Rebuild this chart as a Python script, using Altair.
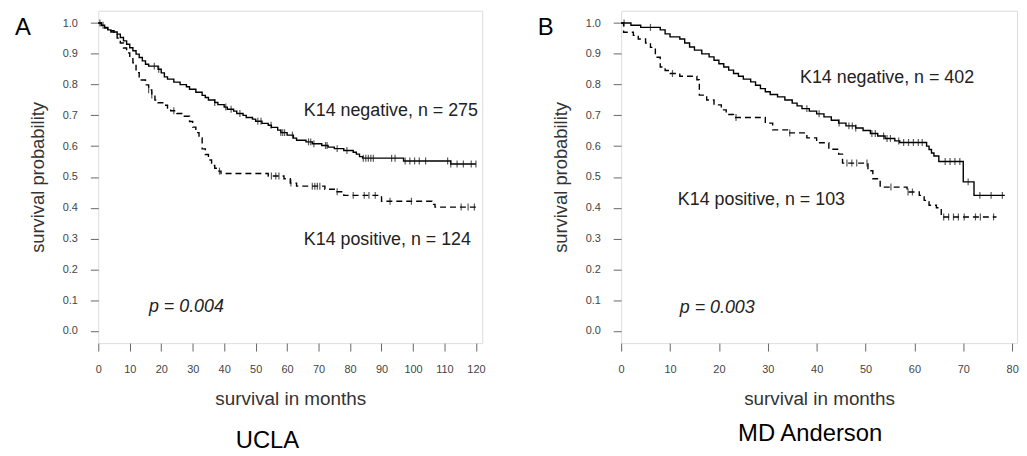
import altair as alt
import pandas as pd

# ---------------- data ----------------
# UCLA, K14 negative (solid)
ucla_neg_t = [0, 1, 2, 3, 4, 6, 7, 8, 9, 10, 11, 12, 13, 14, 15, 16, 19, 20, 21, 22, 24, 26, 28, 29, 31,
              33, 34, 35, 37, 38, 40, 41, 43, 44, 46, 47, 49, 50, 52, 54, 55, 57, 58, 60, 62, 63, 66, 68,
              71, 73, 75, 78, 81, 82, 83, 84, 97, 112, 120]
ucla_neg_s = [1.0, 0.993, 0.986, 0.978, 0.971, 0.964, 0.953, 0.942, 0.931, 0.920, 0.910, 0.899, 0.888,
              0.877, 0.866, 0.860, 0.850, 0.838, 0.825, 0.818, 0.808, 0.800, 0.793, 0.785, 0.775, 0.765,
              0.758, 0.750, 0.742, 0.735, 0.727, 0.720, 0.714, 0.706, 0.700, 0.693, 0.688, 0.681, 0.674,
              0.668, 0.661, 0.652, 0.644, 0.636, 0.626, 0.619, 0.614, 0.608, 0.602, 0.597, 0.592, 0.586,
              0.580, 0.574, 0.566, 0.561, 0.552, 0.542, 0.542]
ucla_neg_cens = [0.5, 1.5, 17.8, 19.2, 37, 40.5, 42.2, 45, 50.7, 51.7, 54.9, 58, 58.6, 59.2, 61.7, 66.8,
                 67.5, 68.5, 72.2, 72.7, 75.9, 79, 84.2, 85, 85.8, 86.6, 87.4, 93.2, 94.3, 97.5, 99,
                 100.5, 102, 104, 111, 112, 114, 116, 118.5, 120]

# UCLA, K14 positive (dashed)
ucla_pos_t = [0, 1, 2, 3, 5, 6, 7, 8, 9, 10, 11, 12, 13, 15, 16, 17, 18, 19, 21, 22, 23, 25, 27, 29, 30,
              31, 32, 33, 34, 35, 36, 37, 38, 39, 54, 59, 61, 63, 72, 75, 78, 90, 106, 107, 120]
ucla_pos_s = [1.0, 0.992, 0.984, 0.975, 0.967, 0.951, 0.935, 0.919, 0.903, 0.887, 0.871, 0.839, 0.815,
              0.799, 0.783, 0.766, 0.750, 0.741, 0.733, 0.724, 0.715, 0.706, 0.697, 0.680, 0.662, 0.644,
              0.627, 0.591, 0.573, 0.555, 0.537, 0.528, 0.519, 0.511, 0.503, 0.494, 0.480, 0.470, 0.460,
              0.452, 0.440, 0.421, 0.411, 0.402, 0.402]
ucla_pos_cens = [16, 17, 24, 38.5, 55, 56.4, 57.4, 61.2, 68, 68.8, 69.6, 70.4, 75.9, 81, 84.5, 86, 88,
                 92.7, 99.5, 115.3, 117.5, 119.5]

# MD Anderson, K14 negative (solid)
mda_neg_t = [0, 2, 4, 8, 9, 10, 12, 13, 14, 15, 16.5, 18, 19, 20, 21, 22, 23, 24, 25, 26.5, 27.5, 28.5,
             29.5, 30.5, 32, 33.5, 35, 36, 37, 38.5, 40, 41.5, 43, 44.5, 46, 48, 49.5, 51, 52.5, 54, 56,
             57, 62.5, 63, 63.5, 64, 65, 70, 72.2, 78.5]
mda_neg_s = [1.0, 0.993, 0.986, 0.978, 0.965, 0.955, 0.948, 0.935, 0.922, 0.912, 0.900, 0.890, 0.879,
             0.868, 0.857, 0.847, 0.836, 0.827, 0.818, 0.809, 0.798, 0.787, 0.777, 0.768, 0.760, 0.750,
             0.740, 0.731, 0.722, 0.714, 0.705, 0.695, 0.684, 0.675, 0.666, 0.659, 0.651, 0.641, 0.633,
             0.625, 0.617, 0.612, 0.600, 0.589, 0.578, 0.568, 0.550, 0.484, 0.440, 0.440]
mda_neg_cens = [0.6, 6, 38, 40.5, 44.6, 46.6, 47.3, 48, 51.3, 52, 53.7, 54.4, 55.1, 56.8, 57.8, 58.8,
                59.8, 60.8, 61.6, 66.3, 67.3, 68.3, 69.3, 71, 73.4, 75.7, 78]

# MD Anderson, K14 positive (dashed)
mda_pos_t = [0, 0.5, 2.5, 3.5, 5, 6, 7, 8, 9, 10, 12, 15.5, 16, 17.5, 19, 20.5, 21.5, 23, 29.5, 31, 34.5,
             38, 40, 42.5, 44.5, 45.3, 50.5, 51.5, 53, 58.5, 61, 62, 63, 64.5, 65.5, 76.8]
mda_pos_s = [1.0, 0.970, 0.960, 0.948, 0.935, 0.921, 0.889, 0.857, 0.846, 0.836, 0.827, 0.816, 0.766,
             0.750, 0.734, 0.718, 0.703, 0.693, 0.675, 0.653, 0.643, 0.627, 0.611, 0.590, 0.574, 0.545,
             0.520, 0.494, 0.467, 0.451, 0.440, 0.424, 0.408, 0.400, 0.370, 0.370]
mda_pos_cens = [10.5, 23.5, 34.5, 46.2, 47.2, 48.2, 50.3, 55.2, 58.7, 59.6, 66, 67, 68, 69, 70.2, 72.5,
                73.5, 76.2]

panel_letters = ["A", "B"]
panel_names = ["UCLA", "MD Anderson"]
neg_labels = ["K14 negative, n = 275", "K14 negative, n = 402"]
pos_labels = ["K14 positive, n = 124", "K14 positive, n = 103"]
p_labels = ["p = 0.004", "p = 0.003"]
y_ticks = [round(i / 10, 1) for i in range(11)]
x_ticks_ucla = list(range(0, 121, 10))
x_ticks_mda = list(range(0, 81, 10))

FONT = "Liberation Sans"
AX = "#444444"


def surv_at(ts, ss, t):
    v = ss[0]
    for ti, si in zip(ts, ss):
        if ti <= t:
            v = si
    return v


def panel(idx, neg_t, neg_s, pos_t, pos_s, neg_c, pos_c, xmax, xticks, width,
          neg_pos, pos_pos, p_pos, name_x, name_y):
    curves = pd.concat([
        pd.DataFrame({"t": neg_t, "s": neg_s, "g": "neg"}),
        pd.DataFrame({"t": pos_t, "s": pos_s, "g": "pos"}),
    ])
    cens = pd.concat([
        pd.DataFrame({"t": neg_c, "s": [surv_at(neg_t, neg_s, c) for c in neg_c]}),
        pd.DataFrame({"t": pos_c, "s": [surv_at(pos_t, pos_s, c) for c in pos_c]}),
    ])
    xs = alt.Scale(domain=[0, xmax], nice=False, zero=False)
    ys = alt.Scale(domain=[-0.04, 1.04], nice=False, zero=False)
    xax = alt.Axis(values=xticks, title="survival in months", labelOverlap=False)
    yax = alt.Axis(values=y_ticks, format=".1f", title="survival probability",
                   labelOverlap=False)
    X = alt.X("t:Q", scale=xs, axis=xax)
    Y = alt.Y("s:Q", scale=ys, axis=yax)

    base = alt.Chart(curves)
    neg_line = base.transform_filter(alt.datum.g == "neg").mark_line(
        interpolate="step-after", color="black", strokeWidth=1.4
    ).encode(x=X, y=Y)
    pos_line = base.transform_filter(alt.datum.g == "pos").mark_line(
        interpolate="step-after", color="black", strokeWidth=1.4, strokeDash=[6, 4]
    ).encode(x=X, y=Y)
    ticks = alt.Chart(cens).mark_tick(orient="vertical", size=7, thickness=1.2,
                                      color="#111111").encode(x=X, y=Y)

    ann = pd.DataFrame({
        "t": [neg_pos[0], pos_pos[0]],
        "s": [neg_pos[1], pos_pos[1]],
        "label": [neg_labels[idx], pos_labels[idx]],
    })
    ann_txt = alt.Chart(ann).mark_text(align="left", baseline="middle", fontSize=18, font=FONT,
                                       color="#222222").encode(x=X, y=Y, text="label:N")
    p_df = pd.DataFrame({"t": [p_pos[0]], "s": [p_pos[1]], "label": [p_labels[idx]]})
    p_txt = alt.Chart(p_df).mark_text(align="left", baseline="middle", fontSize=18, font=FONT,
                                      fontStyle="italic", color="#222222").encode(
        x=X, y=Y, text="label:N")
    letter = alt.Chart(pd.DataFrame({"label": [panel_letters[idx]]})).mark_text(
        align="left", baseline="middle", fontSize=24, font=FONT, color="black").encode(
        x=alt.value(-84), y=alt.value(17), text="label:N")
    name = alt.Chart(pd.DataFrame({"label": [panel_names[idx]]})).mark_text(
        align="center", baseline="middle", fontSize=24, font=FONT, color="black").encode(
        x=alt.value(name_x), y=alt.value(name_y), text="label:N")

    return alt.layer(neg_line, pos_line, ticks, ann_txt, p_txt, letter, name).properties(
        width=width, height=335)


left = panel(0, ucla_neg_t, ucla_neg_s, ucla_pos_t, ucla_pos_s, ucla_neg_cens, ucla_pos_cens,
             122, x_ticks_ucla, 387, (65.3, 0.713), (65.3, 0.295), (16.1, 0.076), 170.5, 434)
right = panel(1, mda_neg_t, mda_neg_s, mda_pos_t, mda_pos_s, mda_neg_cens, mda_pos_cens,
              81, x_ticks_mda, 399, (36.6, 0.821), (11.6, 0.425), (12.0, 0.074), 190.5, 427)

chart = (
    alt.hconcat(left, right, spacing=140, bounds="flush")
    .properties(padding={"left": 6, "top": 0, "right": 0, "bottom": 0})
    .configure_view(stroke="#808080", strokeWidth=1)
    .configure(font=FONT)
    .configure_axis(grid=False, domain=False, tickColor="#666666", tickSize=8,
                    labelFontSize=11, labelColor=AX, labelFont=FONT, titleFont=FONT,
                    titleFontWeight="normal", titleColor="#333333", labelFlush=False,
                    labelOverlap=False, titleBaseline="alphabetic")
    .configure_axisX(labelPadding=13, titleFontSize=19, titleY=62)
    .configure_axisY(labelPadding=13, titleFontSize=18.5, titleX=-55, titleY=167.5)
)

chart.save("out.html", embed_options={"renderer": "svg", "actions": False})
